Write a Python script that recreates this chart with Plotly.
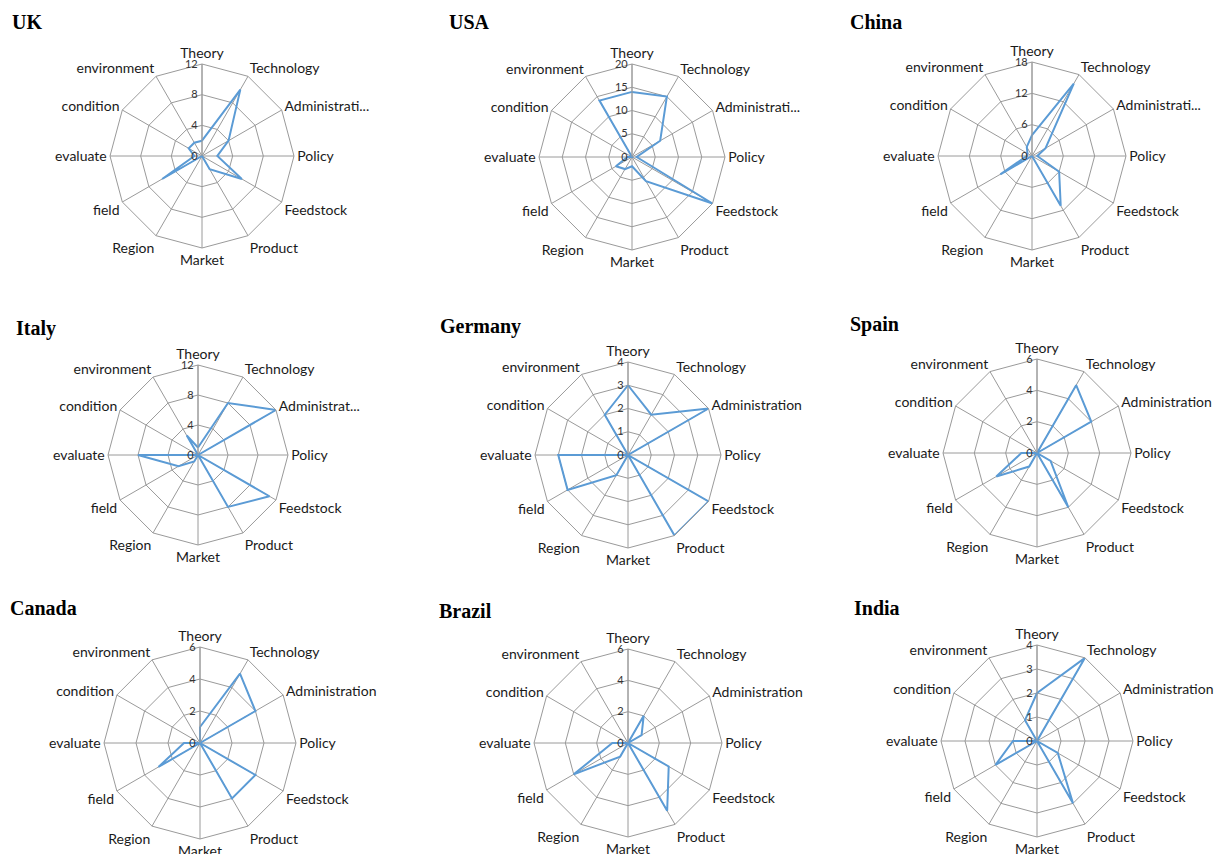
import plotly.graph_objects as go

# Research-theme counts per country, clockwise from the top spoke
CATEGORIES = ["Theory", "Technology", "Administration", "Policy", "Feedstock",
              "Product", "Market", "Region", "field", "evaluate", "condition",
              "environment"]

COUNTRIES = ["UK", "USA", "China", "Italy", "Germany", "Spain",
             "Canada", "Brazil", "India"]

UK = [2, 10, 4, 2, 6, 2, 0, 0, 6, 1, 2, 2]
USA = [14, 15, 7, 1, 20, 6, 2, 3, 4, 1, 0, 14]
CHINA = [4, 16, 3, 1, 6, 11, 0, 0, 7, 1, 1, 2]
ITALY = [1, 8, 12, 0, 11, 8, 0, 1, 3, 8, 0, 3]
GERMANY = [3, 2, 4, 0, 4, 4, 0, 1, 3, 3, 0, 2]
SPAIN = [0, 5, 4, 0, 1, 4, 0, 1, 3, 1, 0, 0]
CANADA = [1, 5, 4, 0, 4, 4, 0, 0, 3, 1, 0, 0]
BRAZIL = [0, 2, 1, 0, 3, 5, 0, 1, 4, 1, 0, 0]
INDIA = [2, 4, 0, 0, 1, 3, 0, 0, 2, 1, 0, 1]

SERIES = [UK, USA, CHINA, ITALY, GERMANY, SPAIN, CANADA, BRAZIL, INDIA]

# Radial axis maximum and grid step for each panel
AXIS_MAX = [12, 20, 18, 12, 4, 6, 6, 6, 4]
AXIS_STEP = [4, 5, 6, 4, 1, 2, 2, 2, 1]

# How the third category is shortened on each panel
ADMIN_LABEL = ["Administrati...", "Administrati...", "Administrati...",
               "Administrat...", "Administration", "Administration",
               "Administration", "Administration", "Administration"]

W, H = 1219, 854
# Panel centres and radii in pixels
CENTERS = [(202, 156), (632, 157), (1032, 156),
           (198, 455), (628, 455), (1037, 453),
           (200, 743), (628, 743), (1037, 741)]
RADII = [92, 93, 94, 90, 93, 94, 96, 94, 96]
TITLE_POS = [(10, 22), (447, 22), (848, 22),
             (14, 328), (438, 326), (848, 324),
             (8, 608), (437, 611), (852, 608)]

GRID = "#9a9a9a"
LINE = "#5B9BD5"
LABEL_FONT = dict(family="Lato, Open Sans, sans-serif", size=14, color="#1a1a1a")

fig = go.Figure()
layout = dict(width=W, height=H, margin=dict(l=0, r=0, t=0, b=0),
              paper_bgcolor="white", plot_bgcolor="white", showlegend=False)
annotations = []

for i, name in enumerate(COUNTRIES):
    key = "polar" if i == 0 else f"polar{i + 1}"
    vals = SERIES[i]
    theta = CATEGORIES + [CATEGORIES[0]]
    r = vals + [vals[0]]
    fig.add_trace(go.Scatterpolar(
        r=r, theta=theta, mode="lines",
        line=dict(color=LINE, width=2),
        subplot=key, hoverinfo="r+theta"))

    cx, cy = CENTERS[i]
    R = RADII[i]
    labels = list(CATEGORIES)
    labels[2] = ADMIN_LABEL[i]
    layout[key] = dict(
        domain=dict(x=[(cx - R) / W, (cx + R) / W],
                    y=[1 - (cy + R) / H, 1 - (cy - R) / H]),
        bgcolor="white",
        gridshape="linear",
        radialaxis=dict(
            range=[0, AXIS_MAX[i]], dtick=AXIS_STEP[i], tick0=0,
            angle=90, side="counterclockwise", tickangle=90,
            showline=True, linecolor=GRID, linewidth=1,
            gridcolor=GRID, gridwidth=1, ticks="",
            tickfont=dict(family="Lato, Open Sans, sans-serif", size=11,
                          color="#333")),
        angularaxis=dict(
            categoryorder="array", categoryarray=CATEGORIES,
            tickmode="array", tickvals=CATEGORIES, ticktext=labels,
            rotation=90, direction="clockwise",
            showline=True, linecolor=GRID, linewidth=1,
            gridcolor=GRID, gridwidth=1, ticks="",
            tickfont=LABEL_FONT),
    )

    tx, ty = TITLE_POS[i]
    annotations.append(dict(
        text=f"<b>{name}</b>", x=tx / W, y=1 - ty / H,
        xref="paper", yref="paper", xanchor="left", yanchor="middle",
        showarrow=False,
        font=dict(family="Liberation Serif, Times New Roman, serif",
                  size=20, color="black")))

layout["annotations"] = annotations
fig.update_layout(**layout)
fig.write_html("out.html")
